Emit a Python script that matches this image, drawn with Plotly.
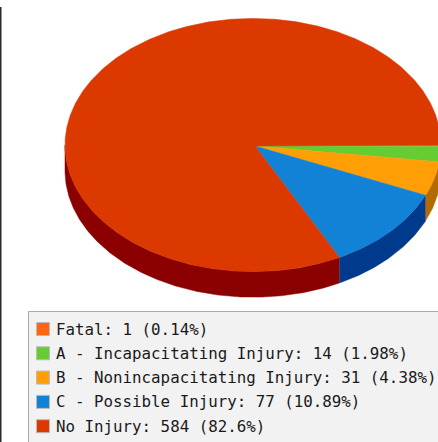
import numpy as np
import plotly.graph_objects as go

# Injury severity counts
categories = ["Fatal", "A - Incapacitating Injury", "B - Nonincapacitating Injury",
              "C - Possible Injury", "No Injury"]
counts = [1, 14, 31, 77, 584]
top_colors = ["#FF6611", "#66CC33", "#FF9F05", "#1282D6", "#DC3900"]
side_colors = ["#993300", "#336600", "#B36B00", "#003A8C", "#8B0000"]

W, H = 438, 442
CX, CY, RX, RY, DEPTH = 253, 145, 188, 126.6, 25.6
APEX_X, APEX_Y = 255, 146

fig = go.Figure()

total = sum(counts)
edges = np.concatenate([[0], np.cumsum(counts)]) / total * 2 * np.pi


def arc(a0, a1):
    t = np.linspace(a0, a1, max(3, int((a1 - a0) * 120)))
    return CX + RX * np.cos(t), CY + RY * np.sin(t)


def polygon(x, y, color):
    fig.add_trace(go.Scatter(x=x, y=y, mode="lines", fill="toself", fillcolor=color,
                             line=dict(color=color, width=0.5), hoverinfo="skip",
                             showlegend=False))


# Extruded wall: only the part of each slice facing the viewer
for i in range(len(counts)):
    a0, a1 = edges[i], min(edges[i + 1], np.pi)
    if a1 > a0:
        x, y = arc(a0, a1)
        polygon(np.r_[x, x[::-1]], np.r_[y, y[::-1] + DEPTH], side_colors[i])

# Top face of the pie
for i in range(len(counts)):
    x, y = arc(edges[i], edges[i + 1])
    polygon(np.r_[APEX_X, x, APEX_X], np.r_[APEX_Y, y, APEX_Y], top_colors[i])

shapes = [
    # Rule along the left side of the page
    dict(type="rect", x0=0, x1=1.5, y0=7, y1=H, fillcolor="#2a2a2a", line_width=0),
    # Legend panel
    dict(type="rect", x0=28.5, x1=H + 20, y0=311.5, y1=H + 20, fillcolor="#F2F2F2",
         line=dict(color="#AAAAAA", width=1)),
]
annotations = []
for i, (name, n) in enumerate(zip(categories, counts)):
    row_y = 329 + i * 24.3
    shapes.append(dict(type="rect", x0=36.5, x1=49.5, y0=row_y - 6.5, y1=row_y + 6.5,
                       fillcolor=top_colors[i], line=dict(color="#BBBBBB", width=1)))
    annotations.append(dict(x=55, y=row_y, xref="x", yref="y", xanchor="left", yanchor="middle",
                            showarrow=False, align="left", borderpad=0,
                            text=f"{name}: {n} ({round(n / total * 100, 2):g}%)",
                            font=dict(family="DejaVu Sans Mono", size=15.8, color="#1a1a1a")))

fig.update_layout(
    width=W, height=H, margin=dict(l=0, r=0, t=0, b=0),
    paper_bgcolor="white", plot_bgcolor="white",
    xaxis=dict(range=[0, W], visible=False, fixedrange=True),
    yaxis=dict(range=[H, 0], visible=False, fixedrange=True),
    shapes=shapes, annotations=annotations,
)
fig.write_html("out.html", config={"displayModeBar": False})
